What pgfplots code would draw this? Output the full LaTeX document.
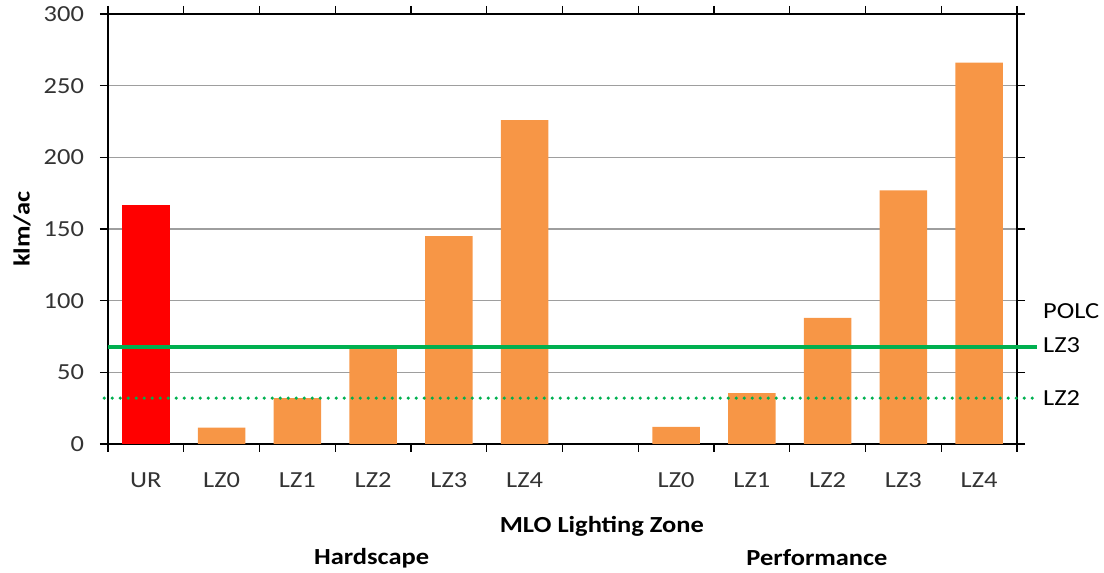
\documentclass[border=0pt]{standalone}
\usepackage{fontspec}
\setmainfont{Carlito}[FakeStretch=1.15]
\usepackage{pgfplots}
\pgfplotsset{compat=1.18}
\definecolor{barorange}{RGB}{247,150,70}
\definecolor{polcgreen}{RGB}{0,176,80}
\begin{document}
\fontsize{11.5}{13}\selectfont
\begin{tikzpicture}
\useasboundingbox (0,0) rectangle (552pt,286.5pt);
\begin{axis}[
    at={(54pt,64.5pt)}, anchor=south west,
    scale only axis,
    width=454.5pt, height=215pt,
    xmin=-0.5, xmax=11.5,
    ymin=0, ymax=300,
    xtick={-0.5,0.5,1.5,2.5,3.5,4.5,5.5,6.5,7.5,8.5,9.5,10.5,11.5},
    x tick label as interval,
    xticklabels={UR,LZ0,LZ1,LZ2,LZ3,LZ4,,LZ0,LZ1,LZ2,LZ3,LZ4},
    ytick={0,50,...,300},
    ymajorgrids,
    grid style={black!38, line width=0.7pt},
    tick align=outside,
    major tick length=4pt,
    tick style={black, line width=0.7pt},
    axis line style={line width=1pt},
    /pgf/number format/assume math mode=true,
    ticklabel style={font=\fontsize{11.5}{13}\selectfont, text=black!80},
    yticklabel style={xshift=-4pt},
    xticklabel style={yshift=-6.5pt},
    ylabel={\bfseries klm/ac},
    every axis y label/.style={at={(axis description cs:0,0.5)}, xshift=-43pt, rotate=90, anchor=center},
    clip=false,
]
    % UR (red), then hardscape and performance zones
    \addplot[ybar, bar width=23.7pt, bar shift=0pt, fill=red, draw=none]
        coordinates {(0,167)};
    \addplot[ybar, bar width=23.7pt, bar shift=0pt, fill=barorange, draw=none]
        coordinates {(1,11.5) (2,32) (3,67.5) (4,145) (5,226)
                     (7,12) (8,35.5) (9,88) (10,177) (11,266)};

    % POLC limits
    \addplot[polcgreen, line width=2pt] coordinates {(-0.5,68) (11.76,68)};
    \addplot[polcgreen, line width=1.8pt, line cap=round, dash pattern=on 0pt off 4pt]
        coordinates {(-0.55,32) (11.76,32)};

    \node[anchor=west, inner sep=0pt] at (axis cs:11.84,93) {POLC};
    \node[anchor=west, inner sep=0pt] at (axis cs:11.84,69) {LZ3};
    \node[anchor=west, inner sep=0pt] at (axis cs:11.84,32) {LZ2};

    \node[font=\bfseries] at (axis cs:6.02,0) [yshift=-41pt] {MLO Lighting Zone};
    \node[font=\bfseries] at (axis cs:2.98,0) [yshift=-57pt] {Hardscape};
    \node[font=\bfseries] at (axis cs:8.86,0) [yshift=-57pt] {Performance};
\end{axis}
\end{tikzpicture}
\end{document}
